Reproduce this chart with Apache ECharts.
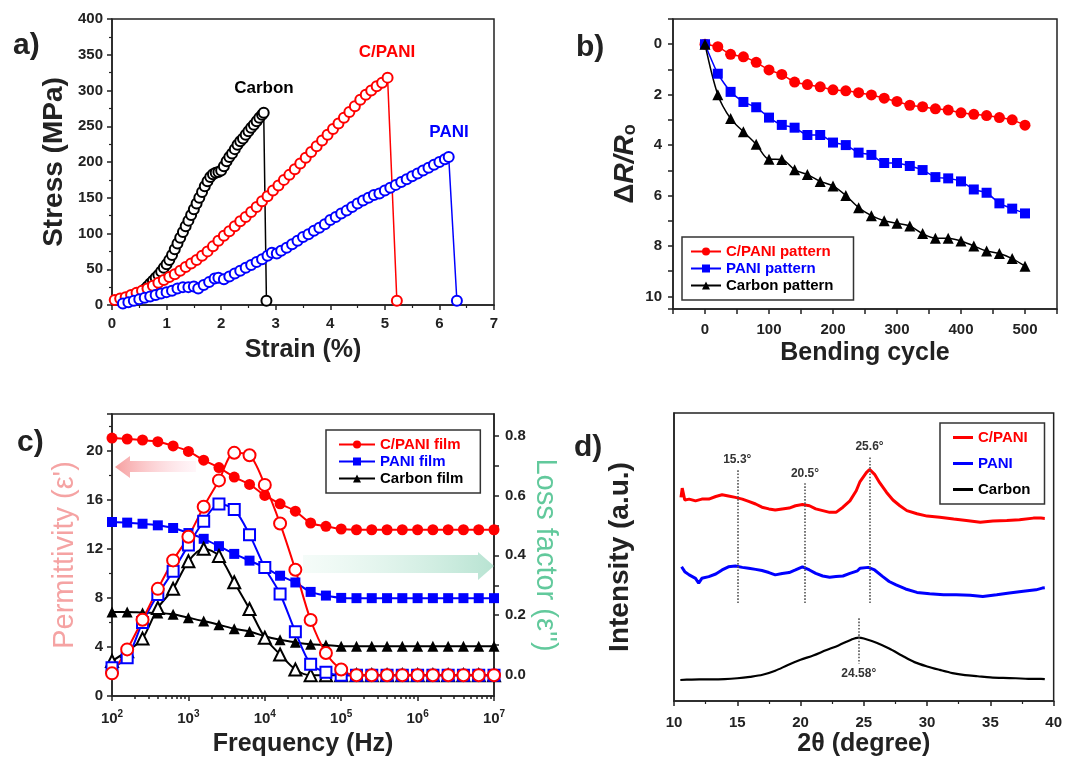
<!DOCTYPE html>
<html>
<head>
<meta charset="utf-8">
<title>C/PANI composite figure</title>
<script src="https://cdn.jsdelivr.net/npm/echarts@6/dist/echarts.min.js"></script>
<style>
  html, body { margin: 0; padding: 0; background: #fff; }
  #chart { width: 1065px; height: 758px; }
</style>
</head>
<body>
<div id="chart"></div>
<script>
var FONT = '"Liberation Sans", Arial, sans-serif';
var RED = '#ff0000', BLUE = '#0000ff', BLACK = '#000000', INK = '#222222';
var PINK = '#f5a3a3', GREEN = '#62c99c';

// a) stress-strain curves
var carbonStrain = [0.55,0.6,0.65,0.7,0.75,0.8,0.85,0.9,0.95,1.0,1.05,1.1,1.15,1.2,1.25,1.3,1.35,1.4,1.45,1.5,1.55,1.6,1.65,1.7,1.75,1.8,1.85,1.9,1.95,2.0,2.05,2.1,2.15,2.2,2.25,2.3,2.35,2.4,2.45,2.5,2.55,2.6,2.65,2.7,2.75,2.78,2.83];
var carbonStress = [18,22,26,30,34,38,42,47,52,57,63,70,78,86,94,102,110,118,126,134,142,150,158,166,173,179,183,185,186,188,194,201,207,212,218,224,229,233,238,243,248,252,257,262,266,269,6];
var cpaniStrain = [0.05,0.15,0.25,0.35,0.45,0.55,0.65,0.75,0.85,0.95,1.05,1.15,1.25,1.35,1.45,1.55,1.65,1.75,1.85,1.95,2.05,2.15,2.25,2.35,2.45,2.55,2.65,2.75,2.85,2.95,3.05,3.15,3.25,3.35,3.45,3.55,3.65,3.75,3.85,3.95,4.05,4.15,4.25,4.35,4.45,4.55,4.65,4.75,4.85,4.95,5.05,5.22];
var cpaniStress = [7,9,11,14,17,20,23,27,31,35,39,43,48,53,58,63,69,75,82,90,97,103,110,117,123,130,137,145,152,160,167,175,182,190,198,206,214,222,230,238,246,254,262,270,278,287,294,300,306,311,318,6];
var paniStrain = [0.2,0.3,0.4,0.5,0.6,0.7,0.8,0.9,1.0,1.1,1.2,1.3,1.4,1.5,1.58,1.68,1.78,1.88,1.95,2.05,2.15,2.25,2.35,2.45,2.55,2.65,2.75,2.85,2.93,3.02,3.1,3.2,3.3,3.4,3.5,3.6,3.7,3.8,3.9,4.0,4.1,4.2,4.3,4.4,4.5,4.6,4.7,4.8,4.9,5.0,5.1,5.2,5.3,5.4,5.5,5.6,5.7,5.8,5.9,6.0,6.1,6.17,6.32];
var paniStress = [2,4,6,8,10,12,14,16,18,20,23,25,25,26,23,28,32,37,38,36,40,44,48,52,56,60,64,69,73,72,76,80,85,90,95,99,104,108,113,119,123,128,132,137,142,146,150,154,156,160,164,168,172,176,180,184,188,192,196,200,204,207,6];

// b) bending test
var bendingCycles = [0,20,40,60,80,100,120,140,160,180,200,220,240,260,280,300,320,340,360,380,400,420,440,460,480,500];
var cpaniPattern = [0,0.1,0.4,0.5,0.72,1.02,1.2,1.5,1.6,1.69,1.81,1.85,1.92,2.01,2.14,2.27,2.42,2.48,2.56,2.61,2.72,2.78,2.83,2.91,3.0,3.21];
var paniPattern = [0,1.17,1.89,2.29,2.5,2.91,3.2,3.31,3.6,3.6,3.9,4.0,4.3,4.39,4.71,4.71,4.83,4.99,5.27,5.32,5.44,5.76,5.89,6.31,6.52,6.71];
var carbonPattern = [0,2.0,2.95,3.47,3.97,4.56,4.57,4.98,5.17,5.44,5.62,6.0,6.48,6.8,7.0,7.1,7.21,7.51,7.69,7.69,7.8,8.0,8.2,8.3,8.5,8.8];
var cycleTickLabels = [0,100,200,300,400,500];
var resistanceTickLabels = [0,2,4,6,8,10];

// c) dielectric spectra
var frequency = [100,158,251,398,631,1000,1585,2512,3981,6310,10000,15849,25119,39811,63096,100000,158489,251189,398107,630957,1000000,1584893,2511886,3981072,6309573,10000000];
var cpaniPerm = [21.04,20.96,20.88,20.74,20.4,19.95,19.23,18.63,17.86,17.26,16.36,15.67,15.07,14.11,13.84,13.62,13.56,13.56,13.56,13.56,13.56,13.56,13.56,13.56,13.56,13.56];
var paniPerm = [14.19,14.14,14.05,13.92,13.7,13.29,12.82,12.22,11.59,11.04,10.47,9.81,9.26,8.49,8.19,8.0,7.98,7.98,7.98,7.98,7.98,7.98,7.98,7.98,7.98,7.98];
var carbonPerm = [6.85,6.85,6.8,6.77,6.66,6.38,6.11,5.81,5.48,5.26,4.88,4.58,4.38,4.22,4.16,4.05,4.05,4.05,4.05,4.05,4.05,4.05,4.05,4.05,4.05,4.05];
var cpaniLoss = [0.006,0.086,0.185,0.288,0.383,0.462,0.562,0.65,0.742,0.734,0.635,0.506,0.352,0.184,0.074,0.019,0,0,0,0,0,0,0,0,0,0];
var paniLoss = [0.025,0.058,0.176,0.269,0.347,0.434,0.514,0.571,0.553,0.469,0.359,0.271,0.145,0.036,0.01,0,0,0,0,0,0,0,0,0,0,0];
var carbonLoss = [0.047,0.08,0.122,0.224,0.288,0.38,0.422,0.398,0.31,0.221,0.125,0.069,0.019,0,0,0,0,0,0,0,0,0,0,0,0,0];
var freqExponents = ['2','3','4','5','6','7'];
var freqMinorTicks = [200,300,400,500,600,700,800,900,2000,3000,4000,5000,6000,7000,8000,9000,20000,30000,40000,50000,60000,70000,80000,90000,200000,300000,400000,500000,600000,700000,800000,900000,2000000,3000000,4000000,5000000,6000000,7000000,8000000,9000000];
var lossTickLabels = [0,0.2,0.4,0.6,0.8];
var lossTicks = [0,0.1,0.2,0.3,0.4,0.5,0.6,0.7,0.8];

// d) XRD patterns
var cpaniTheta = [10.55,10.65,10.85,11.2,11.7,12.2,12.75,13.3,13.8,14.3,14.85,15.4,15.9,16.45,16.95,17.5,18.0,18.55,19.1,19.6,20.15,20.7,21.2,21.75,22.3,22.8,23.35,23.9,24.4,24.7,25.2,25.45,25.85,26.25,26.8,27.3,27.85,28.4,29.2,30.0,31.0,32.1,33.1,34.2,35.2,36.3,37.3,38.4,39.0,39.3];
var cpaniXrd = [70.7,73.9,69.8,70.1,69.5,70.1,70.1,71.0,71.6,71.2,70.7,70.1,69.3,68.4,67.3,66.7,66.3,66.7,67.0,67.8,68.2,67.8,66.7,66.1,65.5,65.5,67.3,69.5,73.0,76.2,79.3,80.4,78.7,75.8,72.4,69.8,67.8,66.1,65.0,64.2,63.8,63.2,62.7,62.1,62.5,62.7,62.9,63.5,63.5,63.4];
var paniTheta = [10.6,10.85,11.2,11.7,11.95,12.2,12.75,13.3,13.8,14.3,14.85,15.4,15.9,16.45,16.95,17.5,18.0,18.55,19.1,19.6,20.15,20.7,21.2,21.75,22.3,22.8,23.35,23.9,24.5,24.7,25.35,25.85,26.5,27.0,27.55,28.3,29.2,30.2,31.3,32.3,33.4,34.4,35.5,36.5,37.6,38.6,39.1,39.3];
var paniXrd = [46.6,44.9,43.8,42.6,40.9,42.6,43.2,44.1,45.5,46.6,46.9,46.4,46.1,45.7,45.3,44.6,43.8,44.3,44.6,45.5,46.6,45.5,44.3,43.4,43.0,43.2,43.4,44.3,45.2,46.1,46.4,45.5,43.2,41.5,40.3,38.9,37.7,37.2,36.9,36.9,36.7,36.3,36.9,37.5,38.1,38.6,39.2,39.3];
var carbonTheta = [10.5,11,12,13,14,15,16,17,18,19,20,21,22,23,24,24.58,25,26,27,28,29,30,31,32,33,34,35,36,37,38,39,39.3];
var carbonXrd = [7.3,7.4,7.5,7.5,7.6,7.9,8.4,9.1,10.5,12.5,14.3,15.8,17.6,19.3,21.3,22.0,21.7,20.2,18.2,15.8,13.5,12.0,10.8,9.7,9.0,8.6,8.2,8.0,7.9,7.7,7.7,7.6];
var peakTheta = [15.0, 20.35, 25.45];
var peakTop = [80.3, 75.6, 85.0];
var peakLabels = ['15.3°', '20.5°', '25.6°'];

function pairs(xs, ys) {
  return xs.map(function (x, i) { return [x, ys[i]]; });
}

function merge(a, b) {
  var out = {};
  Object.keys(a).forEach(function (k) { out[k] = a[k]; });
  Object.keys(b || {}).forEach(function (k) {
    var v = b[k];
    if (v && typeof v === 'object' && !Array.isArray(v) && out[k] && typeof out[k] === 'object') {
      out[k] = merge(out[k], v);
    } else {
      out[k] = v;
    }
  });
  return out;
}

function axis(extra) {
  return merge({
    axisLine: { show: true, onZero: false, lineStyle: { color: INK, width: 1.5 } },
    axisTick: { show: true, inside: false, length: 5, lineStyle: { color: INK, width: 1.5 } },
    minorTick: { show: false, length: 3, lineStyle: { color: INK, width: 1.2 } },
    splitLine: { show: false },
    axisLabel: { color: INK, fontSize: 15, fontWeight: 'bold', fontFamily: FONT, margin: 9 },
    nameLocation: 'middle',
    nameTextStyle: { color: INK, fontSize: 25, fontWeight: 'bold', fontFamily: FONT }
  }, extra);
}

function gridBox(left, top, width, height) {
  return { left: left, top: top, width: width, height: height, show: true,
    borderColor: INK, borderWidth: 1.5, backgroundColor: 'transparent' };
}

var legendText = { fontSize: 15, fontWeight: 'bold', fontFamily: FONT };

var chart = echarts.init(document.getElementById('chart'), null, { renderer: 'canvas' });

var option = {
  animation: false,
  backgroundColor: '#ffffff',
  grid: [
    gridBox(112, 19, 382, 286),
    gridBox(673, 19, 384, 290),
    gridBox(112, 414, 382, 284),
    gridBox(674, 413, 382, 291)
  ],
  xAxis: [
    axis({ gridIndex: 0, type: 'value', min: 0, max: 7, interval: 1,
      minorTick: { show: true, splitNumber: 2 },
      axisLabel: { margin: 11 },
      name: 'Strain (%)', nameGap: 33 }),
    axis({ gridIndex: 1, type: 'value', min: -50, max: 550, interval: 50,
      axisLabel: { margin: 13, formatter: function (v) { return cycleTickLabels.indexOf(v) >= 0 ? String(v) : ''; } },
      name: 'Bending cycle', nameGap: 32 }),
    axis({ gridIndex: 2, type: 'log', logBase: 10, min: 100, max: 10000000, position: 'bottom',
      axisLabel: {
        margin: 13,
        formatter: function (v, i) { return '{b|10}{e|' + freqExponents[i] + '}'; },
        rich: {
          b: { fontSize: 15, fontWeight: 'bold', fontFamily: FONT, color: INK, lineHeight: 20 },
          e: { fontSize: 10, fontWeight: 'bold', fontFamily: FONT, color: INK, verticalAlign: 'top' }
        }
      },
      name: 'Frequency (Hz)', nameGap: 36 }),
    axis({ gridIndex: 2, type: 'log', logBase: 10, min: 100, max: 10000000, position: 'bottom',
      axisLine: { show: false }, axisLabel: { show: false },
      axisTick: { length: 3, customValues: freqMinorTicks } }),
    axis({ gridIndex: 3, type: 'value', min: 10, max: 40, interval: 5,
      minorTick: { show: true, splitNumber: 2 },
      axisLabel: { margin: 14 },
      name: '2θ (degree)', nameGap: 31 })
  ],
  yAxis: [
    axis({ gridIndex: 0, type: 'value', min: 0, max: 400, interval: 50,
      minorTick: { show: true, splitNumber: 2 },
      name: 'Stress (MPa)', nameGap: 44, nameTextStyle: { fontSize: 28 } }),
    axis({ gridIndex: 1, type: 'value', inverse: true, min: -1, max: 10.5, interval: 1,
      axisLabel: { margin: 11, formatter: function (v) { return resistanceTickLabels.indexOf(v) >= 0 ? String(v) : ''; } },
      name: '{d|Δ}{i|R/R}{s|o}', nameGap: 34,
      nameTextStyle: { rich: {
        d: { fontSize: 28, fontFamily: FONT, color: INK },
        i: { fontSize: 28, fontStyle: 'italic', fontWeight: 'bold', fontFamily: FONT, color: INK },
        s: { fontSize: 18, fontWeight: 'bold', fontFamily: FONT, color: INK, verticalAlign: 'bottom', padding: [10, 0, 0, 0] }
      } } }),
    axis({ gridIndex: 2, type: 'value', min: 0, max: 23, interval: 4,
      minorTick: { show: true, splitNumber: 2 },
      axisLabel: { showMaxLabel: false },
      name: "Permittivity (ε')", nameGap: 33,
      nameTextStyle: { color: PINK, fontSize: 29, fontWeight: 'normal' } }),
    axis({ gridIndex: 2, type: 'value', position: 'right', min: -0.0696, max: 0.8716,
      axisLabel: { margin: 11, customValues: lossTickLabels, formatter: function (v) { return v.toFixed(1); } },
      axisTick: { customValues: lossTicks },
      name: "Loss factor (ε'')", nameGap: 36, nameRotate: -90,
      nameTextStyle: { color: GREEN, fontSize: 29, fontWeight: 'normal' } }),
    axis({ gridIndex: 3, type: 'value', min: 0, max: 100,
      axisTick: { show: false }, axisLabel: { show: false },
      name: 'Intensity (a.u.)', nameGap: 40, nameTextStyle: { fontSize: 28 } })
  ],
  legend: [
    { left: 682, top: 237, orient: 'vertical', backgroundColor: '#fff',
      borderColor: '#333', borderWidth: 1.5, borderRadius: 0, padding: [7, 20, 7, 8],
      itemWidth: 30, itemHeight: 10, itemGap: 2, textStyle: legendText,
      data: [
        { name: 'C/PANI pattern', textStyle: { color: RED } },
        { name: 'PANI pattern', textStyle: { color: BLUE } },
        { name: 'Carbon pattern', textStyle: { color: BLACK } }
      ] },
    { left: 326, top: 430, orient: 'vertical', backgroundColor: '#fff',
      borderColor: '#333', borderWidth: 1.5, borderRadius: 0, padding: [7, 17, 7, 12],
      itemWidth: 36, itemHeight: 10, itemGap: 2, textStyle: legendText,
      data: [
        { name: 'C/PANI film', textStyle: { color: RED } },
        { name: 'PANI film', textStyle: { color: BLUE } },
        { name: 'Carbon film', textStyle: { color: BLACK } }
      ] },
    { left: 940, top: 423, orient: 'vertical', backgroundColor: '#fff',
      borderColor: '#333', borderWidth: 1.5, borderRadius: 0, padding: [7, 14, 7, 13],
      itemWidth: 20, itemHeight: 3, itemGap: 11, textStyle: legendText, icon: 'rect',
      data: [
        { name: 'C/PANI', textStyle: { color: RED } },
        { name: 'PANI', textStyle: { color: BLUE } },
        { name: 'Carbon', textStyle: { color: BLACK } }
      ] }
  ],
  series: [
    // a)
    { type: 'line', name: 'Carbon a', xAxisIndex: 0, yAxisIndex: 0, data: pairs(carbonStrain, carbonStress),
      symbol: 'emptyCircle', symbolSize: 10, lineStyle: { color: BLACK, width: 1.5 },
      itemStyle: { color: BLACK, borderWidth: 1.3 } },
    { type: 'line', name: 'C/PANI a', xAxisIndex: 0, yAxisIndex: 0, data: pairs(cpaniStrain, cpaniStress),
      symbol: 'emptyCircle', symbolSize: 10, lineStyle: { color: RED, width: 1.5 },
      itemStyle: { color: RED, borderWidth: 1.3 } },
    { type: 'line', name: 'PANI a', xAxisIndex: 0, yAxisIndex: 0, data: pairs(paniStrain, paniStress),
      symbol: 'emptyCircle', symbolSize: 10, lineStyle: { color: BLUE, width: 1.5 },
      itemStyle: { color: BLUE, borderWidth: 1.3 } },
    // b)
    { type: 'line', name: 'C/PANI pattern', xAxisIndex: 1, yAxisIndex: 1, data: pairs(bendingCycles, cpaniPattern),
      symbol: 'circle', symbolSize: 11, smooth: 0.2, color: RED, lineStyle: { width: 1.5 } },
    { type: 'line', name: 'PANI pattern', xAxisIndex: 1, yAxisIndex: 1, data: pairs(bendingCycles, paniPattern),
      symbol: 'rect', symbolSize: 10, smooth: 0.2, color: BLUE, lineStyle: { width: 1.5 } },
    { type: 'line', name: 'Carbon pattern', xAxisIndex: 1, yAxisIndex: 1, data: pairs(bendingCycles, carbonPattern),
      symbol: 'triangle', symbolSize: 11, smooth: 0.3, color: BLACK, lineStyle: { width: 1.5 } },
    // c) permittivity (left axis)
    { type: 'line', name: 'Carbon film', xAxisIndex: 2, yAxisIndex: 2, data: pairs(frequency, carbonPerm),
      symbol: 'triangle', symbolSize: 11, smooth: 0.3, color: BLACK, lineStyle: { width: 2 } },
    { type: 'line', name: 'PANI film', xAxisIndex: 2, yAxisIndex: 2, data: pairs(frequency, paniPerm),
      symbol: 'rect', symbolSize: 10, smooth: 0.3, color: BLUE, lineStyle: { width: 2 } },
    { type: 'line', name: 'C/PANI film', xAxisIndex: 2, yAxisIndex: 2, data: pairs(frequency, cpaniPerm),
      symbol: 'circle', symbolSize: 11, smooth: 0.3, color: RED, lineStyle: { width: 2 } },
    // c) loss factor (right axis)
    { type: 'line', name: "Carbon film ε''", xAxisIndex: 2, yAxisIndex: 3, data: pairs(frequency, carbonLoss),
      symbol: 'emptyTriangle', symbolSize: 12, smooth: 0.3, color: BLACK, lineStyle: { width: 2 },
      itemStyle: { borderWidth: 1.6 } },
    { type: 'line', name: "PANI film ε''", xAxisIndex: 2, yAxisIndex: 3, data: pairs(frequency, paniLoss),
      symbol: 'emptyRect', symbolSize: 11, smooth: 0.3, color: BLUE, lineStyle: { width: 2 },
      itemStyle: { borderWidth: 1.8 } },
    { type: 'line', name: "C/PANI film ε''", xAxisIndex: 2, yAxisIndex: 3, data: pairs(frequency, cpaniLoss),
      symbol: 'emptyCircle', symbolSize: 12, smooth: 0.3, color: RED, lineStyle: { width: 2 },
      itemStyle: { borderWidth: 1.8 } },
    // d)
    { type: 'line', name: 'C/PANI', xAxisIndex: 4, yAxisIndex: 4, data: pairs(cpaniTheta, cpaniXrd),
      symbol: 'none', color: RED, lineStyle: { width: 3 },
      markLine: {
        silent: true, symbol: 'none',
        lineStyle: { type: 'dotted', color: '#555', width: 1.6 },
        label: { show: true, position: 'end', color: '#333', fontSize: 12, fontWeight: 'bold', fontFamily: FONT, distance: 4 },
        data: peakTheta.map(function (t, i) {
          return [
            { coord: [t, 34.0], label: { formatter: peakLabels[i] } },
            { coord: [t, peakTop[i]], label: { formatter: peakLabels[i] } }
          ];
        })
      } },
    { type: 'line', name: 'PANI', xAxisIndex: 4, yAxisIndex: 4, data: pairs(paniTheta, paniXrd),
      symbol: 'none', color: BLUE, lineStyle: { width: 3 } },
    { type: 'line', name: 'Carbon', xAxisIndex: 4, yAxisIndex: 4, data: pairs(carbonTheta, carbonXrd),
      symbol: 'none', smooth: 0.3, color: BLACK, lineStyle: { width: 2.2 },
      markLine: {
        silent: true, symbol: 'none',
        lineStyle: { type: 'dotted', color: '#555', width: 1.6 },
        label: { show: true, position: 'end', color: '#333', fontSize: 12, fontWeight: 'bold', fontFamily: FONT, distance: 4 },
        data: [[
          { coord: [24.6, 28.7], label: { formatter: '24.58°' } },
          { coord: [24.6, 12.9], label: { formatter: '24.58°' } }
        ]]
      } }
  ],
  graphic: [
    { type: 'text', left: 13, top: 31, style: { text: 'a)', fill: INK, font: 'bold 30px ' + FONT } },
    { type: 'text', left: 576, top: 33, style: { text: 'b)', fill: INK, font: 'bold 30px ' + FONT } },
    { type: 'text', left: 17, top: 428, style: { text: 'c)', fill: INK, font: 'bold 30px ' + FONT } },
    { type: 'text', left: 574, top: 433, style: { text: 'd)', fill: INK, font: 'bold 30px ' + FONT } },
    { type: 'text', x: 264, y: 88, style: { text: 'Carbon', fill: BLACK, font: 'bold 17px ' + FONT, align: 'center', verticalAlign: 'middle' } },
    { type: 'text', x: 387, y: 52, style: { text: 'C/PANI', fill: RED, font: 'bold 17px ' + FONT, align: 'center', verticalAlign: 'middle' } },
    { type: 'text', x: 449, y: 132, style: { text: 'PANI', fill: BLUE, font: 'bold 17px ' + FONT, align: 'center', verticalAlign: 'middle' } },
    { type: 'polygon', z: 1,
      shape: { points: [[115, 467], [130, 456], [130, 461], [196, 461], [196, 472], [130, 472], [130, 478]] },
      style: { fill: new echarts.graphic.LinearGradient(0, 0, 1, 0, [
        { offset: 0, color: 'rgba(244,135,135,0.8)' },
        { offset: 1, color: 'rgba(255,225,235,0.3)' }
      ]) } },
    { type: 'polygon', z: 1,
      shape: { points: [[303, 555], [478, 555], [478, 552], [494, 566], [478, 580], [478, 573], [303, 573]] },
      style: { fill: new echarts.graphic.LinearGradient(0, 0, 1, 0, [
        { offset: 0, color: 'rgba(215,242,230,0.25)' },
        { offset: 1, color: 'rgba(160,218,195,0.75)' }
      ]) } }
  ]
};

chart.setOption(option);
</script>
</body>
</html>
